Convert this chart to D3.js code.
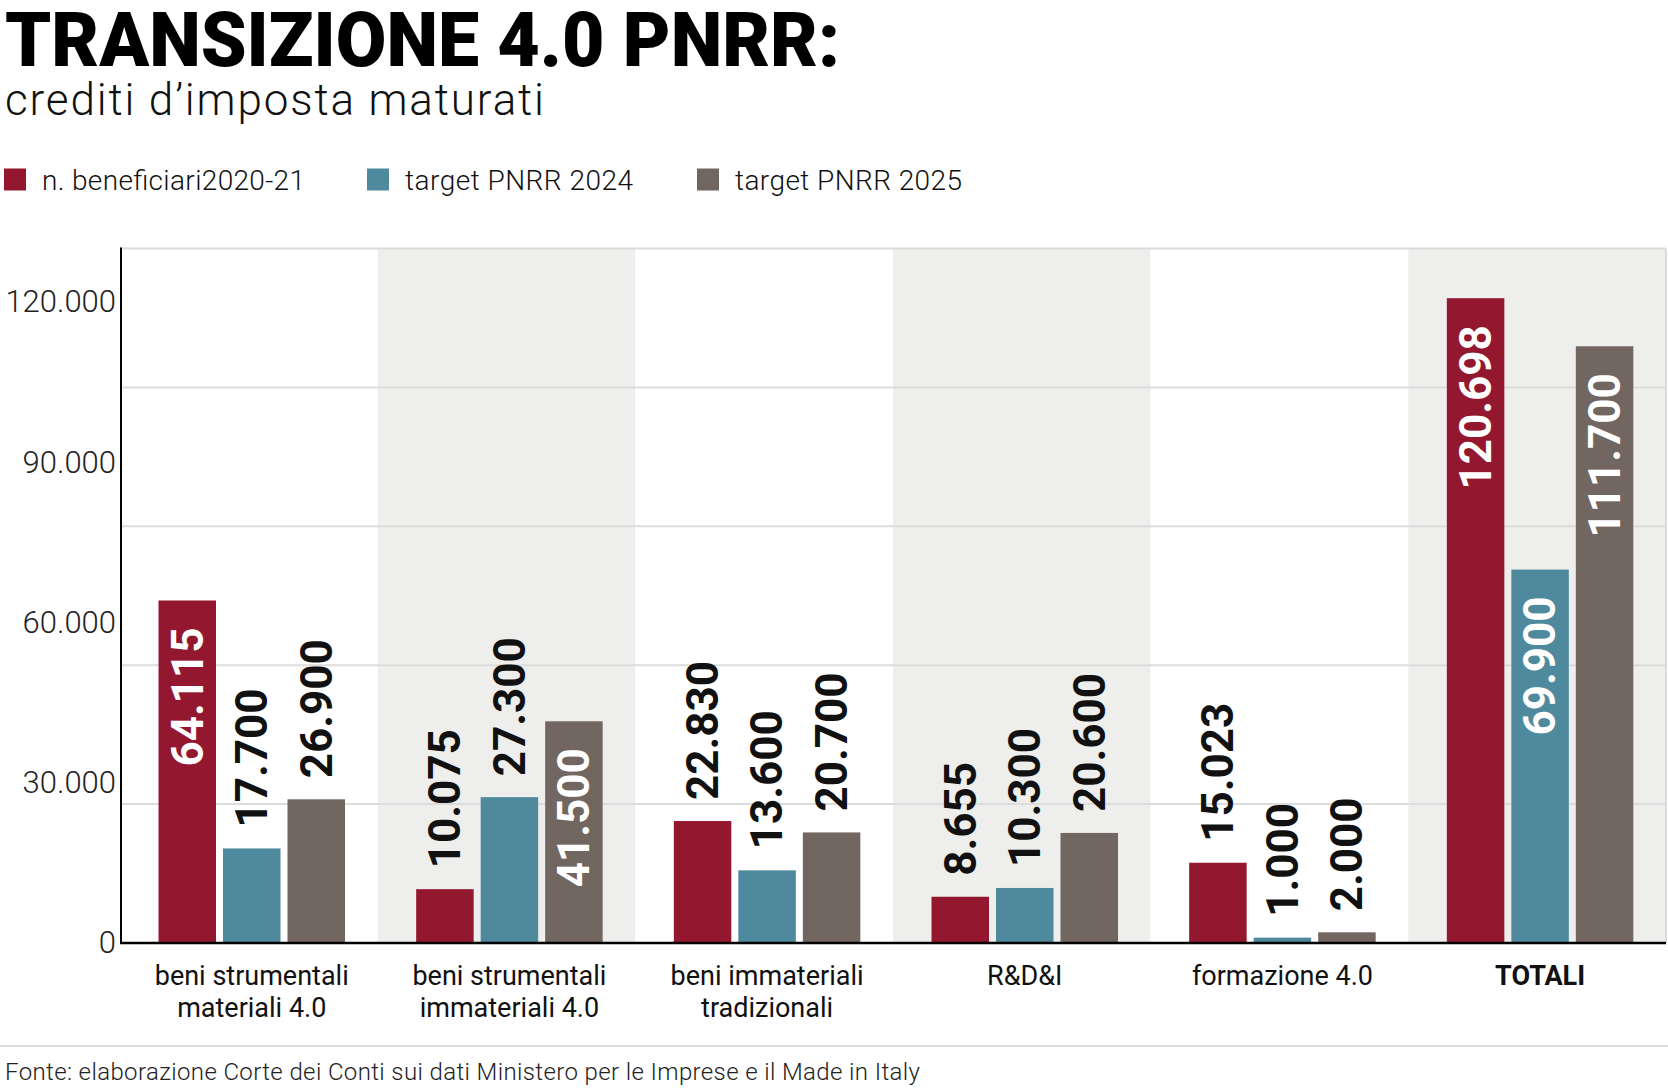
<!DOCTYPE html>
<html><head><meta charset="utf-8">
<script src="https://cdn.jsdelivr.net/npm/d3@7"></script>
<style>
body{margin:0;background:#fff}
svg{display:block}
text{font-family:Roboto,"Noto Sans",sans-serif}
</style>
</head><body>
<svg id="c" width="1668" height="1088"></svg>
<script>
// ---- data ----
const categories = ["beni strumentali\nmateriali 4.0","beni strumentali\nimmateriali 4.0","beni immateriali\ntradizionali","R&D&I","formazione 4.0","TOTALI"];
const seriesNames = ["n. beneficiari2020-21","target PNRR 2024","target PNRR 2025"];
const beneficiari2020_21 = [64115,10075,22830,8655,15023,120698];
const targetPNRR2024 = [17700,27300,13600,10300,1000,69900];
const targetPNRR2025 = [26900,41500,20700,20600,2000,111700];
const yTickValues = [0,30000,60000,90000,120000];
const gridValues = [26000,52000,78000,104000,130000];
const titleText = "TRANSIZIONE 4.0 PNRR:";
const subtitleText = "crediti d\u2019imposta maturati";
const sourceText = "Fonte: elaborazione Corte dei Conti sui dati Ministero per le Imprese e il Made in Italy";

// ---- styles ----
const colors = ["#93182f","#4f899d","#726661"];
const seriesValues = [beneficiari2020_21, targetPNRR2024, targetPNRR2025];

const svg = d3.select("#c");
const pLeft = 120, pRight = 1666, pTop = 248.5, pBase = 943;

const locale = d3.formatLocale({decimal:",", thousands:".", grouping:[3], currency:["€",""]});
const fmt = locale.format(",");

const y = d3.scaleLinear().domain([0,130000]).range([pBase, pTop]);
const x0 = d3.scaleBand().domain(categories).range([pLeft, pRight]).paddingInner(0).paddingOuter(0);
const groupOff = 38.5, groupW = 186.5;
const x1 = d3.scaleBand().domain(seriesNames).range([groupOff, groupOff + groupW]).paddingInner(7/64.5).paddingOuter(0);

// title
svg.append("text").attr("x",5).attr("y",66).attr("font-size",76).attr("font-weight",900)
  .attr("fill","#000").attr("textLength",835).attr("lengthAdjust","spacingAndGlyphs").text(titleText);
svg.append("text").attr("x",5).attr("y",115).attr("font-size",44).attr("font-weight",300)
  .attr("fill","#111").attr("textLength",539).attr("lengthAdjust","spacing").text(subtitleText);

// legend
const legX = [4, 367, 697];
const legTextW = [263, 228, 227];
const leg = svg.append("g");
seriesNames.forEach((s,i)=>{
  leg.append("rect").attr("x",legX[i]).attr("y",168.5).attr("width",22).attr("height",22).attr("fill",colors[i]);
  leg.append("text").attr("x",legX[i]+38).attr("y",190).attr("font-size",28).attr("font-weight",300)
    .attr("fill","#111").attr("textLength",legTextW[i]).attr("lengthAdjust","spacing").text(s);
});

// bands
svg.append("g").selectAll("rect").data(categories).join("rect")
  .attr("x",d=>x0(d)).attr("y",pTop).attr("width",x0.step()).attr("height",pBase-pTop)
  .attr("fill",(d,i)=> i%2===1 ? "#eeeeec" : "#fff");

// gridlines
svg.append("g").selectAll("line").data(gridValues).join("line")
  .attr("x1",pLeft).attr("x2",pRight).attr("y1",d=>y(d)).attr("y2",d=>y(d))
  .attr("stroke","#dcdcdc").attr("stroke-width",2);
// right border
svg.append("line").attr("x1",pRight).attr("x2",pRight).attr("y1",y(130000)).attr("y2",pBase)
  .attr("stroke","#dcdcdc").attr("stroke-width",2);

// bars
const barData = [];
categories.forEach((c,ci)=>{
  seriesNames.forEach((s,si)=>{
    barData.push({c, s, si, v: seriesValues[si][ci]});
  });
});
const gBars = svg.append("g");
gBars.selectAll("rect").data(barData).join("rect")
  .attr("x",d=>x0(d.c)+x1(d.s)).attr("width",x1.bandwidth())
  .attr("y",d=>y(d.v)).attr("height",d=>y(0)-y(d.v))
  .attr("fill",d=>colors[d.si]);

// value labels
gBars.selectAll("text").data(barData).join("text")
  .each(function(d){
    const h = y(0)-y(d.v);
    const inside = h > 200;
    const cx = x0(d.c)+x1(d.s)+x1.bandwidth()/2;
    const ty = inside ? y(d.v)+27 : y(d.v)-21;
    d3.select(this)
      .attr("transform",`translate(${cx},${ty}) rotate(-90)`)
      .attr("text-anchor", inside ? "end" : "start")
      .attr("dy","0.35em")
      .attr("font-size",44).attr("font-weight",700)
      .attr("fill", inside ? "#fff" : "#111")
      .text(fmt(d.v));
  });

// y axis
const yAxis = d3.axisLeft(y).tickValues(yTickValues).tickSize(0).tickPadding(0).tickFormat(fmt);
const gy = svg.append("g").attr("transform",`translate(116,0)`).call(yAxis);
gy.select(".domain").remove();
gy.selectAll("text").attr("font-size",31).attr("font-weight",300).attr("fill","#222")
  .attr("font-family","Roboto, sans-serif");

// axis lines
svg.append("line").attr("x1",121).attr("x2",121).attr("y1",pTop-1).attr("y2",pBase)
  .attr("stroke","#000").attr("stroke-width",2);
svg.append("line").attr("x1",pLeft).attr("x2",pRight).attr("y1",pBase).attr("y2",pBase)
  .attr("stroke","#000").attr("stroke-width",2.5);

// category labels
const gx = svg.append("g");
categories.forEach((c,ci)=>{
  const cx = x0(c) + groupOff + groupW/2;
  const lines = c.split("\n");
  const t = gx.append("text").attr("text-anchor","middle").attr("font-size",27)
    .attr("font-weight", c==="TOTALI" ? 700 : 400).attr("fill","#111");
  lines.forEach((l,li)=>{
    t.append("tspan").attr("x",cx).attr("y",985 + li*31.7).text(l);
  });
});

// footer
svg.append("line").attr("x1",0).attr("x2",1668).attr("y1",1046).attr("y2",1046)
  .attr("stroke","#dddddd").attr("stroke-width",2);
svg.append("text").attr("x",5).attr("y",1080).attr("font-size",24).attr("font-weight",300)
  .attr("fill","#222").attr("textLength",915).attr("lengthAdjust","spacing").text(sourceText);
</script>
</body></html>
